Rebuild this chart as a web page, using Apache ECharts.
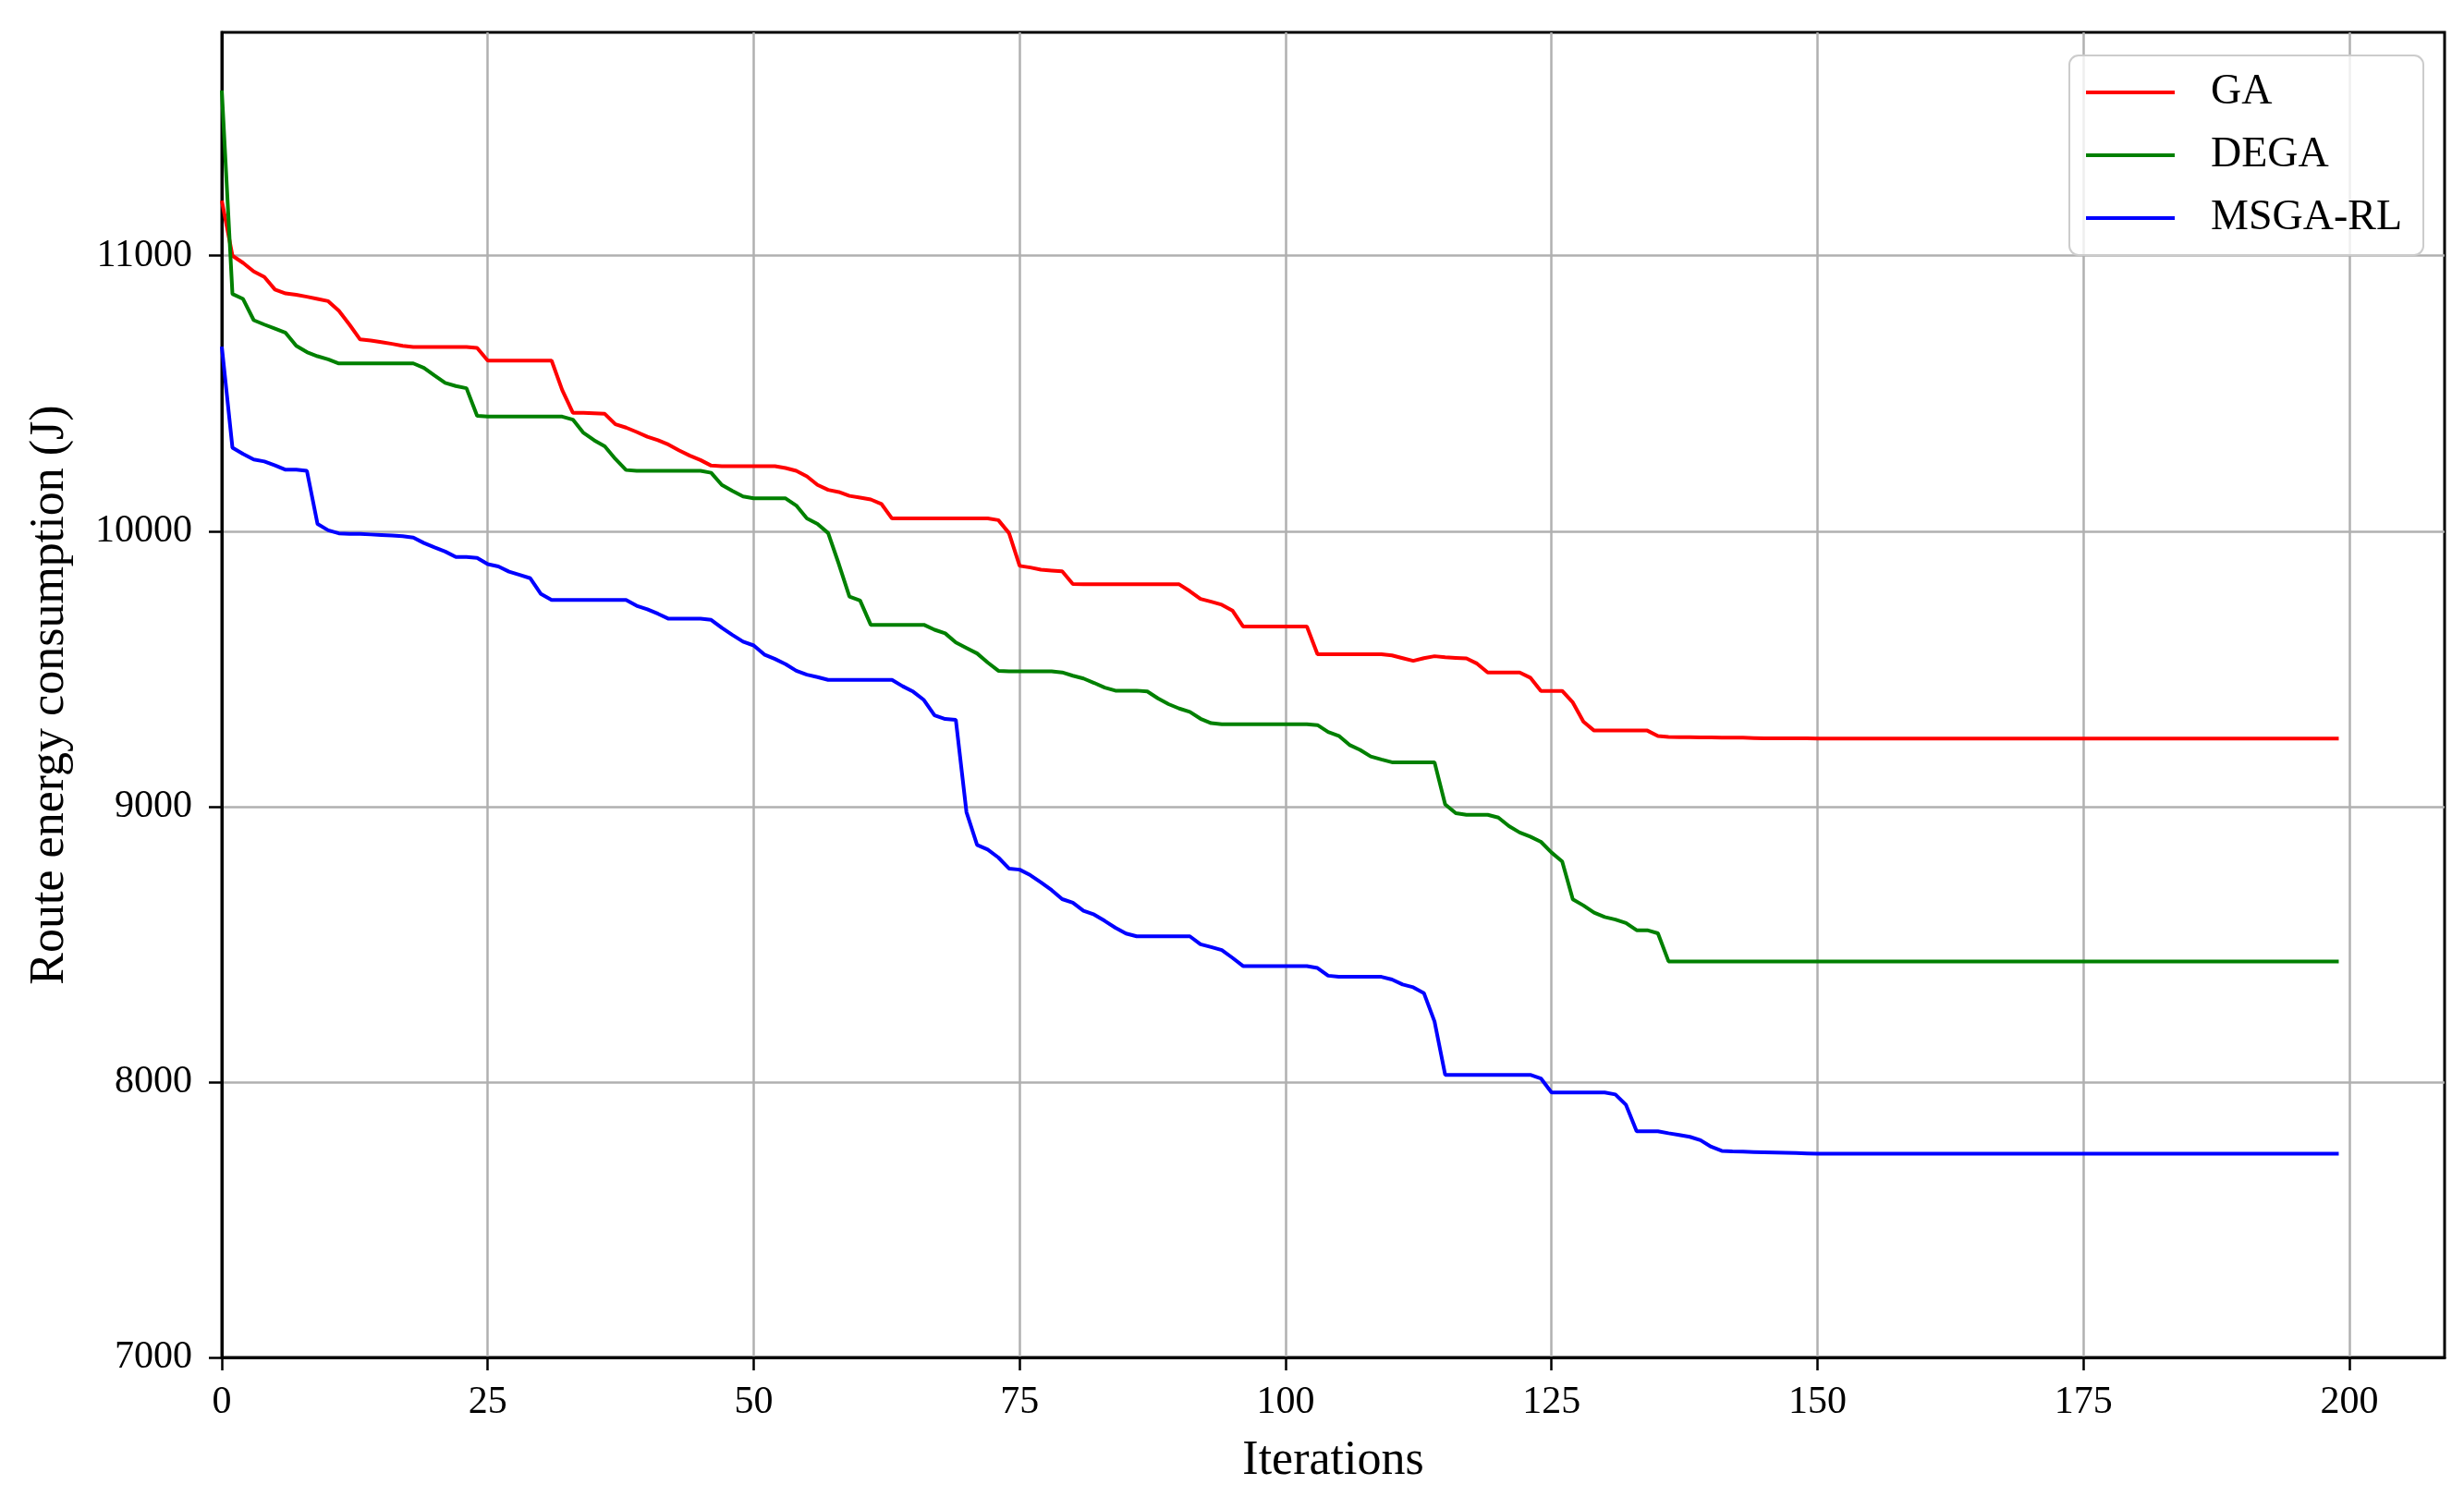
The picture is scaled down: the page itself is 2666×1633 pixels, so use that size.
<!DOCTYPE html>
<html>
<head>
<meta charset="utf-8">
<script src="https://cdn.jsdelivr.net/npm/echarts@6/dist/echarts.min.js"></script>
<style>
html,body{margin:0;padding:0;background:#fff;}
#chart{width:2666px;height:1633px;}
</style>
</head>
<body>
<div id="chart"></div>
<script>
// ---------------- data ----------------
const SERIES_NAMES = ['GA', 'DEGA', 'MSGA-RL'];
const X_TICKS = [0, 25, 50, 75, 100, 125, 150, 175, 200];
const Y_TICKS = [7000, 8000, 9000, 10000, 11000];

const GA = [
11200, 11000, 10974, 10943, 10923, 10877, 10863, 10858, 10851, 10843,
10835, 10800, 10750, 10696, 10692, 10686, 10680, 10673, 10669, 10669,
10669, 10669, 10669, 10669, 10665, 10619, 10619, 10619, 10619, 10619,
10619, 10619, 10512, 10430, 10430, 10428, 10426, 10388, 10376, 10360,
10343, 10330, 10314, 10293, 10274, 10258, 10238, 10236, 10236, 10236,
10236, 10236, 10236, 10229, 10219, 10199, 10168, 10150, 10142, 10128,
10122, 10115, 10099, 10046, 10046, 10046, 10046, 10046, 10046, 10046,
10046, 10046, 10046, 10040, 9993, 9874, 9868, 9860, 9857, 9854,
9808, 9807, 9807, 9807, 9807, 9807, 9807, 9807, 9807, 9807,
9807, 9782, 9754, 9744, 9733, 9712, 9654, 9654, 9654, 9654,
9654, 9654, 9654, 9553, 9553, 9553, 9553, 9553, 9553, 9553,
9549, 9539, 9529, 9539, 9546, 9542, 9540, 9538, 9519, 9487,
9487, 9487, 9487, 9468, 9420, 9420, 9420, 9378, 9308, 9276,
9276, 9276, 9276, 9276, 9276, 9256, 9253, 9252, 9252, 9251,
9251, 9250, 9250, 9250, 9249, 9248, 9248, 9248, 9248, 9248,
9247, 9247, 9247, 9247, 9247, 9247, 9247, 9247, 9247, 9247,
9247, 9247, 9247, 9247, 9247, 9247, 9247, 9247, 9247, 9247,
9247, 9247, 9247, 9247, 9247, 9247, 9247, 9247, 9247, 9247,
9247, 9247, 9247, 9247, 9247, 9247, 9247, 9247, 9247, 9247,
9247, 9247, 9247, 9247, 9247, 9247, 9247, 9247, 9247, 9247
];

const DEGA = [
11600, 10861, 10843, 10766, 10750, 10735, 10720, 10673, 10650, 10635,
10624, 10609, 10609, 10609, 10609, 10609, 10609, 10609, 10609, 10593,
10565, 10538, 10527, 10519, 10419, 10416, 10416, 10416, 10416, 10416,
10416, 10416, 10416, 10405, 10357, 10330, 10308, 10262, 10222, 10219,
10219, 10219, 10219, 10219, 10219, 10219, 10212, 10168, 10146, 10126,
10119, 10119, 10119, 10119, 10093, 10046, 10026, 9993, 9881, 9762,
9748, 9660, 9660, 9660, 9660, 9660, 9660, 9642, 9629, 9596,
9576, 9556, 9523, 9493, 9491, 9491, 9491, 9491, 9491, 9487,
9475, 9465, 9449, 9432, 9421, 9421, 9421, 9418, 9393, 9372,
9356, 9344, 9319, 9303, 9299, 9299, 9299, 9299, 9299, 9299,
9299, 9299, 9299, 9296, 9271, 9257, 9224, 9206, 9182, 9171,
9161, 9161, 9161, 9161, 9161, 9008, 8976, 8970, 8970, 8970,
8960, 8929, 8906, 8891, 8872, 8833, 8801, 8663, 8641, 8615,
8599, 8590, 8577, 8551, 8551, 8540, 8438, 8438, 8438, 8438,
8438, 8438, 8438, 8438, 8438, 8438, 8438, 8438, 8438, 8438,
8438, 8438, 8438, 8438, 8438, 8438, 8438, 8438, 8438, 8438,
8438, 8438, 8438, 8438, 8438, 8438, 8438, 8438, 8438, 8438,
8438, 8438, 8438, 8438, 8438, 8438, 8438, 8438, 8438, 8438,
8438, 8438, 8438, 8438, 8438, 8438, 8438, 8438, 8438, 8438,
8438, 8438, 8438, 8438, 8438, 8438, 8438, 8438, 8438, 8438
];

const MSGA_RL = [
10670, 10303, 10280, 10260, 10253, 10239, 10223, 10223, 10219, 10026,
10003, 9992, 9990, 9990, 9988, 9986, 9984, 9982, 9977, 9957,
9941, 9926, 9906, 9906, 9903, 9880, 9872, 9853, 9841, 9829,
9772, 9750, 9750, 9750, 9750, 9750, 9750, 9750, 9750, 9729,
9716, 9700, 9682, 9682, 9682, 9682, 9678, 9649, 9623, 9599,
9585, 9552, 9536, 9517, 9493, 9479, 9470, 9460, 9460, 9460,
9460, 9460, 9460, 9460, 9437, 9417, 9387, 9331, 9318, 9315,
8980, 8861, 8844, 8815, 8775, 8771, 8751, 8725, 8697, 8664,
8651, 8622, 8608, 8585, 8560, 8539, 8529, 8529, 8529, 8529,
8529, 8529, 8500, 8490, 8479, 8451, 8421, 8421, 8421, 8421,
8421, 8421, 8421, 8414, 8386, 8382, 8382, 8382, 8382, 8382,
8372, 8354, 8344, 8323, 8220, 8026, 8026, 8026, 8026, 8026,
8026, 8026, 8026, 8026, 8013, 7962, 7962, 7962, 7962, 7962,
7962, 7955, 7917, 7821, 7821, 7821, 7814, 7808, 7801, 7789,
7765, 7750, 7748, 7747, 7746, 7745, 7744, 7743, 7742, 7741,
7740, 7740, 7740, 7740, 7740, 7740, 7740, 7740, 7740, 7740,
7740, 7740, 7740, 7740, 7740, 7740, 7740, 7740, 7740, 7740,
7740, 7740, 7740, 7740, 7740, 7740, 7740, 7740, 7740, 7740,
7740, 7740, 7740, 7740, 7740, 7740, 7740, 7740, 7740, 7740,
7740, 7740, 7740, 7740, 7740, 7740, 7740, 7740, 7740, 7740
];

const COLORS = ['#ff0000', '#008000', '#0000ff'];
// --------------------------------------

const FONT = "'Liberation Serif', 'Times New Roman', serif";
const toPairs = arr => arr.map((v, i) => [i, v]);
const allSeries = [GA, DEGA, MSGA_RL];

const chart = echarts.init(document.getElementById('chart'), null, {renderer: 'canvas'});

const option = {
  backgroundColor: '#ffffff',
  animation: false,
  grid: {
    left: 240, right: 21, top: 35, bottom: 164,
    show: true, borderColor: '#000', borderWidth: 3, backgroundColor: 'transparent'
  },
  legend: {
    show: true,
    data: SERIES_NAMES.map(n => ({ name: n, icon: 'rect' })),
    orient: 'vertical',
    left: 2239, top: 60,
    padding: [17, 23, 17, 18],
    itemWidth: 96, itemHeight: 4, itemGap: 22,
    borderColor: '#cccccc', borderWidth: 2, borderRadius: 10,
    backgroundColor: 'rgba(255,255,255,0.8)',
    textStyle: { fontFamily: FONT, fontSize: 46, lineHeight: 46, color: '#000', padding: [0, 0, 0, 34] }
  },
  xAxis: {
    type: 'value', min: 0, max: 208.95, interval: 25,
    name: 'Iterations', nameLocation: 'middle', nameGap: 86,
    nameTextStyle: { fontFamily: FONT, fontSize: 52, color: '#000', verticalAlign: 'top' },
    axisLine: { show: true, onZero: false, lineStyle: { color: '#000', width: 3 } },
    axisTick: { show: true, length: 14, lineStyle: { color: '#000', width: 2.5 }, customValues: X_TICKS },
    axisLabel: { fontFamily: FONT, fontSize: 42, color: '#000', margin: 28, customValues: X_TICKS,
                 formatter: v => String(v) },
    splitLine: { show: true, lineStyle: { color: '#b0b0b0', width: 2.5 } }
  },
  yAxis: {
    type: 'value', min: 7000, max: 11811, interval: 1000,
    name: 'Route energy consumption (J)', nameLocation: 'middle', nameGap: 160, nameRotate: 90,
    nameTextStyle: { fontFamily: FONT, fontSize: 52, color: '#000' },
    axisLine: { show: true, onZero: false, lineStyle: { color: '#000', width: 3 } },
    axisTick: { show: true, length: 14, lineStyle: { color: '#000', width: 2.5 }, customValues: Y_TICKS },
    axisLabel: { fontFamily: FONT, fontSize: 42, color: '#000', margin: 32, customValues: Y_TICKS,
                 formatter: v => String(v) },
    splitLine: { show: true, lineStyle: { color: '#b0b0b0', width: 2.5 } }
  },
  series: SERIES_NAMES.map((name, k) => ({
    name: name,
    type: 'line',
    data: toPairs(allSeries[k]),
    symbol: 'none',
    showSymbol: false,
    smooth: false,
    clip: true,
    color: COLORS[k],
    lineStyle: { color: COLORS[k], width: 4 },
    itemStyle: { color: COLORS[k] }
  }))
};

chart.setOption(option);
</script>
</body>
</html>
